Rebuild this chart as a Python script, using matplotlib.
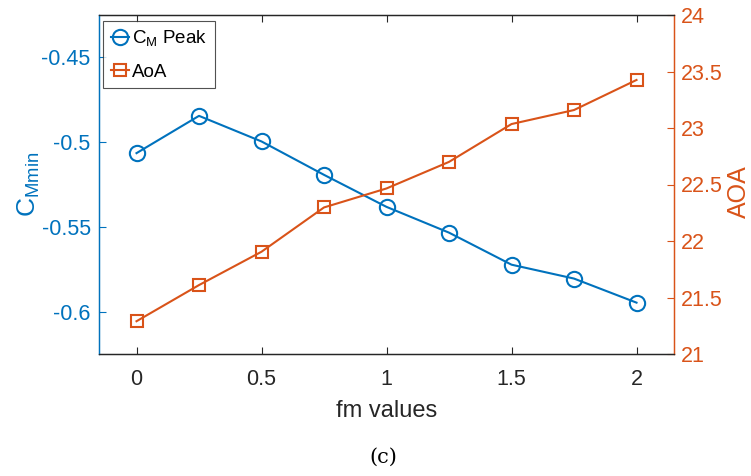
import matplotlib
matplotlib.use("Agg")
import matplotlib.pyplot as plt
from matplotlib import font_manager

fm = [0, 0.25, 0.5, 0.75, 1.0, 1.25, 1.5, 1.75, 2.0]
cm_peak = [-0.5065, -0.4845, -0.4996, -0.5193, -0.5382, -0.5534, -0.5723, -0.5805, -0.5947]
aoa = [21.29, 21.61, 21.905, 22.297, 22.465, 22.70, 23.035, 23.159, 23.425]

xticks = [0, 0.5, 1, 1.5, 2]
left_ticks = [-0.6, -0.55, -0.5, -0.45]
right_ticks = [21, 21.5, 22, 22.5, 23, 23.5, 24]

names = {f.name for f in font_manager.fontManager.ttflist}
if 'Liberation Sans Narrow' in names:
    MAIN = 'Liberation Sans Narrow'
    scale = 1.12
else:
    MAIN = 'Liberation Sans'
    scale = 1.0
plt.rcParams['font.family'] = [MAIN, 'DejaVu Sans']
plt.rcParams['mathtext.fontset'] = 'custom'
plt.rcParams['mathtext.rm'] = MAIN
plt.rcParams['mathtext.it'] = MAIN + ':italic'

BLUE = '#0072BD'
ORANGE = '#D95319'
DARK = '#262626'

fig = plt.figure(figsize=(7.51, 4.76), dpi=100)
ax = fig.add_axes([99/751, 1-354/476, (674-99)/751, (354-15)/476])
ax2 = ax.twinx()

l1, = ax.plot(fm, cm_peak, color=BLUE, lw=1.5, marker='o', ms=11,
              mfc='none', mew=1.5, label=r'C$_{\mathrm{M}}$ Peak')
l2, = ax2.plot(fm, aoa, color=ORANGE, lw=1.5, marker='s', ms=8.5,
               mfc='none', mew=1.5, label='AoA')

ax.set_xlim(-0.15, 2.15)
ax.set_ylim(-0.625, -0.425)
ax2.set_ylim(21, 24)
ax.set_xticks(xticks)
ax.set_xticklabels([f'{t:g}' for t in xticks])
ax.set_yticks(left_ticks)
ax.set_yticklabels([f'{t:g}' for t in left_ticks])
ax2.set_yticks(right_ticks)
ax2.set_yticklabels([f'{t:g}' for t in right_ticks])

fs = 15.5 * scale
ax.tick_params(axis='x', direction='in', top=True, length=5, width=0.8,
               color=DARK, labelcolor=DARK, labelsize=fs, pad=11)
ax.tick_params(axis='y', direction='in', length=5, width=0.8,
               color=BLUE, labelcolor=BLUE, labelsize=fs, pad=6)
ax2.tick_params(axis='y', direction='in', length=5, width=0.8,
                color=ORANGE, labelcolor=ORANGE, labelsize=fs, pad=5)

for a in (ax, ax2):
    a.spines['top'].set_color(DARK)
    a.spines['bottom'].set_color(DARK)
    a.spines['left'].set_color(BLUE)
    a.spines['right'].set_color(ORANGE)
    for s in a.spines.values():
        s.set_linewidth(0.9)

ax.set_xlabel('fm values', fontsize=17 * scale, color=DARK, labelpad=7)
ax.set_ylabel(r'C$_{\mathrm{Mmin}}$', fontsize=19 * scale, color=BLUE)
ax2.set_ylabel('AOA', fontsize=18 * scale, color=ORANGE)
ax.yaxis.set_label_coords((42 - 99) / 575, 0.5)
ax2.yaxis.set_label_coords((727 - 99) / 575, 0.48)

leg = ax.legend(handles=[l1, l2], loc='upper left',
                bbox_to_anchor=((103 - 99) / 575, (354 - 21) / 339),
                fontsize=13.5 * scale, frameon=True, fancybox=False,
                edgecolor=DARK, borderpad=0.4, handlelength=1.0,
                handletextpad=0.15, labelspacing=0.8, borderaxespad=0)
leg.get_frame().set_linewidth(0.8)

fig.text(383/751, 1-457/476, '(c)', ha='center', va='center',
         fontsize=15, family=['DejaVu Serif'])

fig.savefig('out.png', dpi=100)
